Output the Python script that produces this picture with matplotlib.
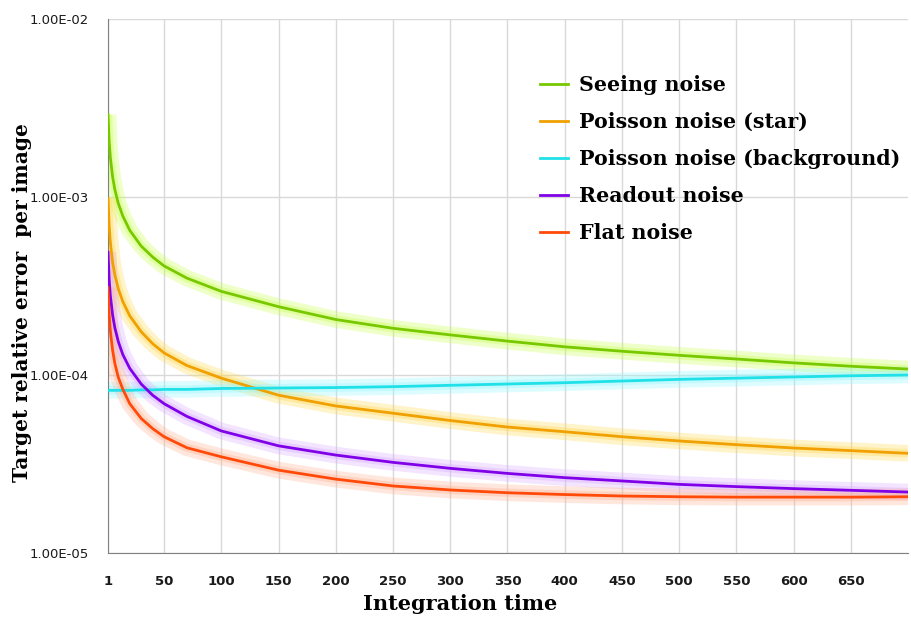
import numpy as np
import matplotlib
matplotlib.use("Agg")
import matplotlib.pyplot as plt

# integration time samples
t = [1, 2, 3, 5, 7, 10, 14, 20, 30, 40, 50, 70, 100, 150, 200,
     250, 300, 350, 400, 450, 500, 550, 600, 650, 700]

seeing = [2.9e-3, 2.05e-3, 1.68e-3, 1.3e-3, 1.1e-3, 9.2e-4, 7.8e-4, 6.5e-4, 5.3e-4, 4.6e-4,
          4.1e-4, 3.5e-4, 2.95e-4, 2.42e-4, 2.05e-4, 1.83e-4, 1.68e-4, 1.55e-4, 1.44e-4,
          1.36e-4, 1.29e-4, 1.23e-4, 1.17e-4, 1.12e-4, 1.08e-4]
poisson_star = [9.8e-4, 6.9e-4, 5.6e-4, 4.3e-4, 3.65e-4, 3.05e-4, 2.58e-4, 2.15e-4, 1.75e-4,
                1.5e-4, 1.33e-4, 1.13e-4, 9.6e-5, 7.7e-5, 6.7e-5, 6.1e-5, 5.55e-5, 5.1e-5,
                4.8e-5, 4.5e-5, 4.26e-5, 4.06e-5, 3.89e-5, 3.76e-5, 3.63e-5]
poisson_bg = [8.2e-5, 8.2e-5, 8.2e-5, 8.2e-5, 8.2e-5, 8.2e-5, 8.2e-5, 8.2e-5, 8.25e-5, 8.25e-5,
              8.3e-5, 8.3e-5, 8.4e-5, 8.45e-5, 8.5e-5, 8.6e-5, 8.75e-5, 8.9e-5, 9.05e-5,
              9.25e-5, 9.45e-5, 9.6e-5, 9.75e-5, 9.9e-5, 1.0e-4]
readout = [4.9e-4, 3.45e-4, 2.8e-4, 2.18e-4, 1.84e-4, 1.54e-4, 1.3e-4, 1.09e-4, 8.9e-5, 7.7e-5,
           6.9e-5, 5.85e-5, 4.85e-5, 4.0e-5, 3.55e-5, 3.23e-5, 2.99e-5, 2.8e-5, 2.65e-5,
           2.54e-5, 2.43e-5, 2.36e-5, 2.3e-5, 2.25e-5, 2.2e-5]
flat = [3.1e-4, 2.2e-4, 1.78e-4, 1.38e-4, 1.16e-4, 9.7e-5, 8.3e-5, 6.9e-5, 5.7e-5, 5.0e-5,
        4.5e-5, 3.9e-5, 3.47e-5, 2.92e-5, 2.6e-5, 2.38e-5, 2.26e-5, 2.18e-5, 2.13e-5,
        2.09e-5, 2.07e-5, 2.06e-5, 2.06e-5, 2.06e-5, 2.07e-5]

names = ["Seeing noise", "Poisson noise (star)", "Poisson noise (background)",
         "Readout noise", "Flat noise"]
x_ticks = [1, 50, 100, 150, 200, 250, 300, 350, 400, 450, 500, 550, 600, 650]
y_ticks = [1e-5, 1e-4, 1e-3, 1e-2]
y_labels = ["1.00E-05", "1.00E-04", "1.00E-03", "1.00E-02"]

series = [seeing, poisson_star, poisson_bg, readout, flat]
colors = ["#78C800", "#F0A000", "#20E0E8", "#8000E8", "#FF4A0A"]
glows = ["#C8FF50", "#FFD850", "#90F8FF", "#D8A8FF", "#FFB090"]

fig = plt.figure(figsize=(9.11, 6.18), dpi=100)
ax = fig.add_axes([108 / 911, 65 / 618, 800 / 911, 534 / 618])

# soft halo first, then the crisp line on top
for y, c, g in zip(series, colors, glows):
    ax.plot(t, y, color=g, lw=12, alpha=0.3, solid_capstyle="butt", zorder=2)
    ax.plot(t, y, color=g, lw=6, alpha=0.35, solid_capstyle="butt", zorder=2)
lines = []
for y, c, name in zip(series, colors, names):
    ln, = ax.plot(t, y, color=c, lw=2, label=name, zorder=3)
    lines.append(ln)

ax.set_yscale("log")
ax.set_ylim(1e-5, 1e-2)
ax.set_xlim(1, 700)
ax.set_yticks(y_ticks)
ax.set_yticklabels(y_labels)
ax.yaxis.set_minor_locator(matplotlib.ticker.NullLocator())
ax.set_xticks(x_ticks)
ax.tick_params(axis="both", length=0, labelsize=9.5, colors="#1a1a1a")
ax.tick_params(axis="x", pad=16)
ax.tick_params(axis="y", pad=14)
for lab in ax.get_xticklabels():
    lab.set_fontweight("bold")

ax.grid(True, color="#D9D9D9", lw=1)
ax.set_axisbelow(True)
for s in ["top", "right"]:
    ax.spines[s].set_visible(False)
for s in ["left", "bottom"]:
    ax.spines[s].set_color("#808080")

serif = ["DejaVu Serif"]
fig.text(460 / 911, 1 - 604 / 618, "Integration time", ha="center", va="center",
         fontsize=15, fontweight="bold", family=serif)
fig.text(22 / 911, 1 - 303 / 618, "Target relative error  per image", ha="center", va="center",
         rotation=90, fontsize=14.5, fontweight="bold", family=serif)

ax.legend(handles=lines, loc="upper left", bbox_to_anchor=(432 / 800, (553 - 75) / 534),
          frameon=False, borderpad=0, borderaxespad=0,
          handlelength=1.35, handletextpad=0.55, labelspacing=0.83,
          prop={"family": serif, "weight": "bold", "size": 14.8})

fig.savefig("out.png", dpi=100)
